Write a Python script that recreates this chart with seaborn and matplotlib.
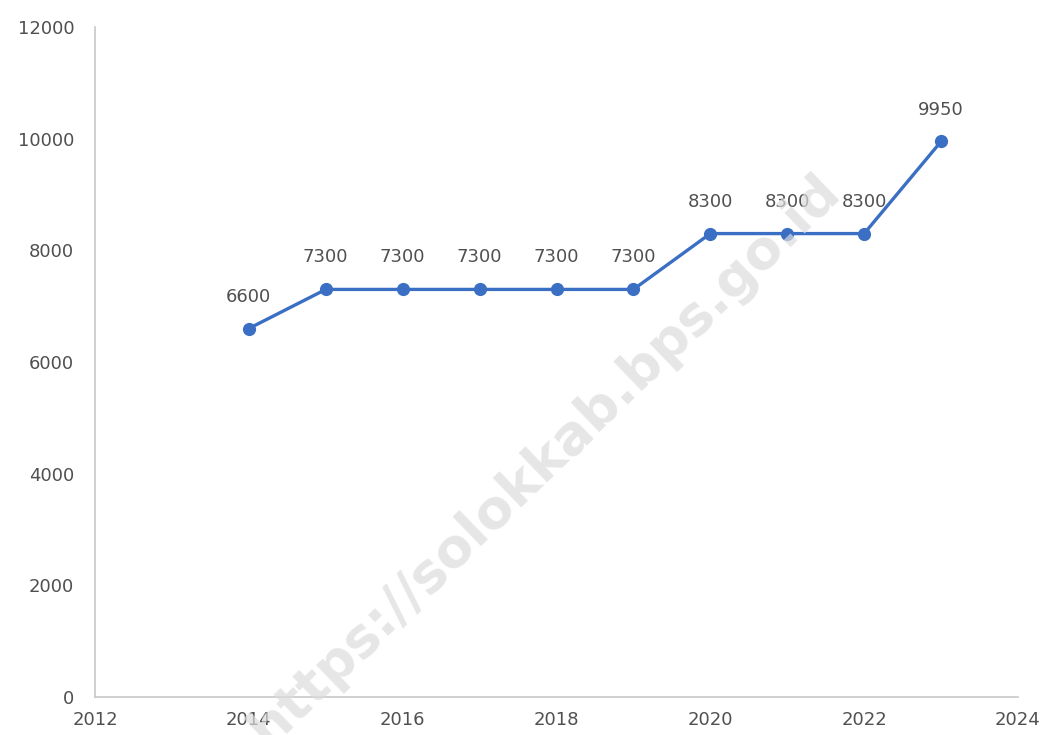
import numpy as np
import pandas as pd
import matplotlib
matplotlib.use('Agg')
import matplotlib.pyplot as plt
import seaborn as sns

# Data
tahun = [2014, 2015, 2016, 2017, 2018, 2019, 2020, 2021, 2022, 2023]
nilai = [6600, 7300, 7300, 7300, 7300, 7300, 8300, 8300, 8300, 9950]
xticks = [2012, 2014, 2016, 2018, 2020, 2022, 2024]
yticks = [0, 2000, 4000, 6000, 8000, 10000, 12000]

df = pd.DataFrame({'tahun': tahun, 'nilai': nilai})

sns.set_style('white')
plt.rcParams['font.family'] = ['DejaVu Sans']

fig = plt.figure(figsize=(10.49, 7.35), dpi=100)
ax = fig.add_axes([95 / 1049, 38 / 735, (1018 - 95) / 1049, (697 - 27) / 735])

warna = '#3a6fc4'
teks = '#505050'
sns.lineplot(data=df, x='tahun', y='nilai', ax=ax, color=warna, linewidth=2.4,
             marker='o', markersize=9.5, markeredgewidth=0, zorder=3)

# Label nilai
for x, y in zip(tahun, nilai):
    ax.annotate(f'{y}', (x, y), xytext=(0, 23), textcoords='offset points',
                ha='center', va='center', fontsize=13, color=teks)

ax.set_xlim(2012, 2024)
ax.set_ylim(0, 12000)
ax.set_xticks(xticks)
ax.set_yticks(yticks)
ax.tick_params(axis='both', length=0, labelsize=13, labelcolor=teks)
ax.tick_params(axis='x', pad=10)
ax.tick_params(axis='y', pad=15)
ax.set_xlabel('')
ax.set_ylabel('')
for s in ['top', 'right']:
    ax.spines[s].set_visible(False)
for s in ['left', 'bottom']:
    ax.spines[s].set_color('#c8c8c8')
    ax.spines[s].set_linewidth(1.2)

# Watermark
fig.text(545 / 1049, 1 - 460 / 735, 'https://solokkab.bps.go.id', rotation=44,
         ha='center', va='center', fontsize=39, fontweight='bold',
         color='#dcdcdc', alpha=0.7, zorder=0)

fig.savefig('out.png', dpi=100)
